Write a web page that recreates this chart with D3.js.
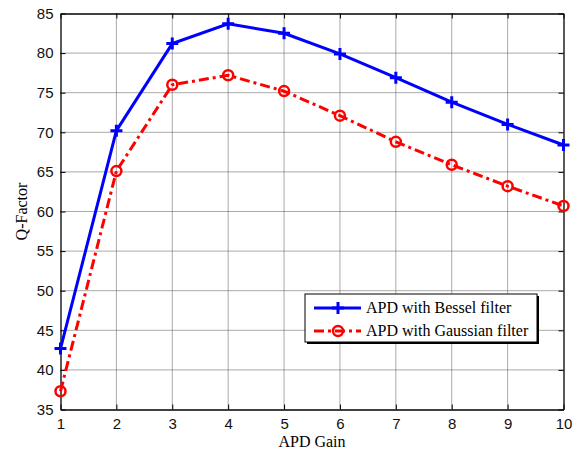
<!DOCTYPE html>
<html><head><meta charset="utf-8">
<script src="https://cdn.jsdelivr.net/npm/d3@7"></script>
<style>body{margin:0;background:#fff}svg{display:block}</style>
</head><body>
<svg id="c" width="576" height="453"></svg>
<script>
const gains = [1,2,3,4,5,6,7,8,9,10];
const bessel = [42.7,70.2,81.2,83.7,82.5,79.9,76.9,73.8,71.0,68.4];
const gaussian = [37.3,65.1,76.0,77.2,75.2,72.1,68.8,65.9,63.2,60.7];
const xTicks = [1,2,3,4,5,6,7,8,9,10];
const yTicks = [35,40,45,50,55,60,65,70,75,80,85];
const seriesNames = ["APD with Bessel filter","APD with Gaussian filter"];

const L=60.5, R=563.5, T=13.5, B=409.5;
const svg = d3.select("#c");
const x = d3.scaleLinear().domain([1,10]).range([L,R]);
const y = d3.scaleLinear().domain([35,85]).range([B,T]);

// grid
const g = svg.append("g");
g.selectAll("line.gx").data(xTicks.slice(1,-1)).join("line")
 .attr("x1",d=>x(d)).attr("x2",d=>x(d)).attr("y1",T).attr("y2",B)
 .attr("stroke","#555").attr("stroke-width",1).attr("stroke-dasharray","1,1");
g.selectAll("line.gy").data(yTicks.slice(1,-1)).join("line")
 .attr("y1",d=>y(d)).attr("y2",d=>y(d)).attr("x1",L).attr("x2",R)
 .attr("stroke","#555").attr("stroke-width",1).attr("stroke-dasharray","1,1");

// axes
const fontTick = "Liberation Sans, Arial, sans-serif";
const ax = svg.append("g").attr("transform",`translate(0,${B})`)
 .call(d3.axisBottom(x).tickValues(xTicks).tickSizeInner(-5).tickSizeOuter(0).tickPadding(9));
const ay = svg.append("g").attr("transform",`translate(${L},0)`)
 .call(d3.axisLeft(y).tickValues(yTicks).tickSizeInner(-5).tickSizeOuter(0).tickPadding(7));
const axT = svg.append("g").attr("transform",`translate(0,${T})`)
 .call(d3.axisTop(x).tickValues(xTicks).tickSizeInner(-5).tickSizeOuter(0).tickFormat(""));
const ayR = svg.append("g").attr("transform",`translate(${R},0)`)
 .call(d3.axisRight(y).tickValues(yTicks).tickSizeInner(-5).tickSizeOuter(0).tickFormat(""));
[ax,ay,axT,ayR].forEach(a=>{
  a.select(".domain").attr("stroke","#000").attr("stroke-width",1.3);
  a.selectAll(".tick line").attr("stroke","#000");
  a.selectAll(".tick text").attr("font-family",fontTick).attr("font-size","15px").attr("fill","#111");
});

// lines
const line = d3.line().x((d,i)=>x(gains[i])).y(d=>y(d));
svg.append("path").datum(bessel).attr("d",line).attr("fill","none")
 .attr("stroke","#0000ff").attr("stroke-width",3);
svg.append("path").datum(gaussian).attr("d",line).attr("fill","none")
 .attr("stroke","#ff0000").attr("stroke-width",3).attr("stroke-dasharray","10,4,3,4");

function plus(sel,cx,cy,s){
  sel.append("path").attr("d",`M${cx-s},${cy}H${cx+s}M${cx},${cy-s}V${cy+s}`)
   .attr("stroke","#0000ff").attr("stroke-width",3).attr("fill","none");
}
function circ(sel,cx,cy,r){
  sel.append("circle").attr("cx",cx).attr("cy",cy).attr("r",r)
   .attr("fill","none").attr("stroke","#ff0000").attr("stroke-width",2.5);
}
const mk = svg.append("g");
bessel.forEach((v,i)=>plus(mk,x(gains[i]),y(v),6));
gaussian.forEach((v,i)=>circ(mk,x(gains[i]),y(v),5));

// axis titles
const fontTitle = "Liberation Serif, Times New Roman, serif";
svg.append("text").attr("x",(L+R)/2).attr("y",447).attr("text-anchor","middle")
 .attr("font-family",fontTitle).attr("font-size","16px").text("APD Gain");
svg.append("text").attr("transform",`translate(27,${(T+B)/2}) rotate(-90)`).attr("text-anchor","middle")
 .attr("font-family",fontTitle).attr("font-size","16px").text("Q-Factor");

// legend
const lg = svg.append("g");
const lx=305, ly=294, lw=232, lh=48;
lg.append("rect").attr("x",lx+2).attr("y",ly+2).attr("width",lw).attr("height",lh).attr("fill","#000");
lg.append("rect").attr("x",lx).attr("y",ly).attr("width",lw).attr("height",lh).attr("fill","#fff").attr("stroke","#000").attr("stroke-width",1);
const rows=[ly+14, ly+37];
lg.append("line").attr("x1",lx+9).attr("x2",lx+56).attr("y1",rows[0]).attr("y2",rows[0]).attr("stroke","#0000ff").attr("stroke-width",3);
plus(lg,lx+33,rows[0],6);
lg.append("line").attr("x1",lx+9).attr("x2",lx+56).attr("y1",rows[1]).attr("y2",rows[1]).attr("stroke","#ff0000").attr("stroke-width",3).attr("stroke-dasharray","10,4,3,4");
circ(lg,lx+33,rows[1],5);
seriesNames.forEach((n,i)=>{
  lg.append("text").attr("x",lx+61).attr("y",rows[i]+5).attr("font-family",fontTitle).attr("font-size","16px").text(n);
});
</script>
</body></html>
